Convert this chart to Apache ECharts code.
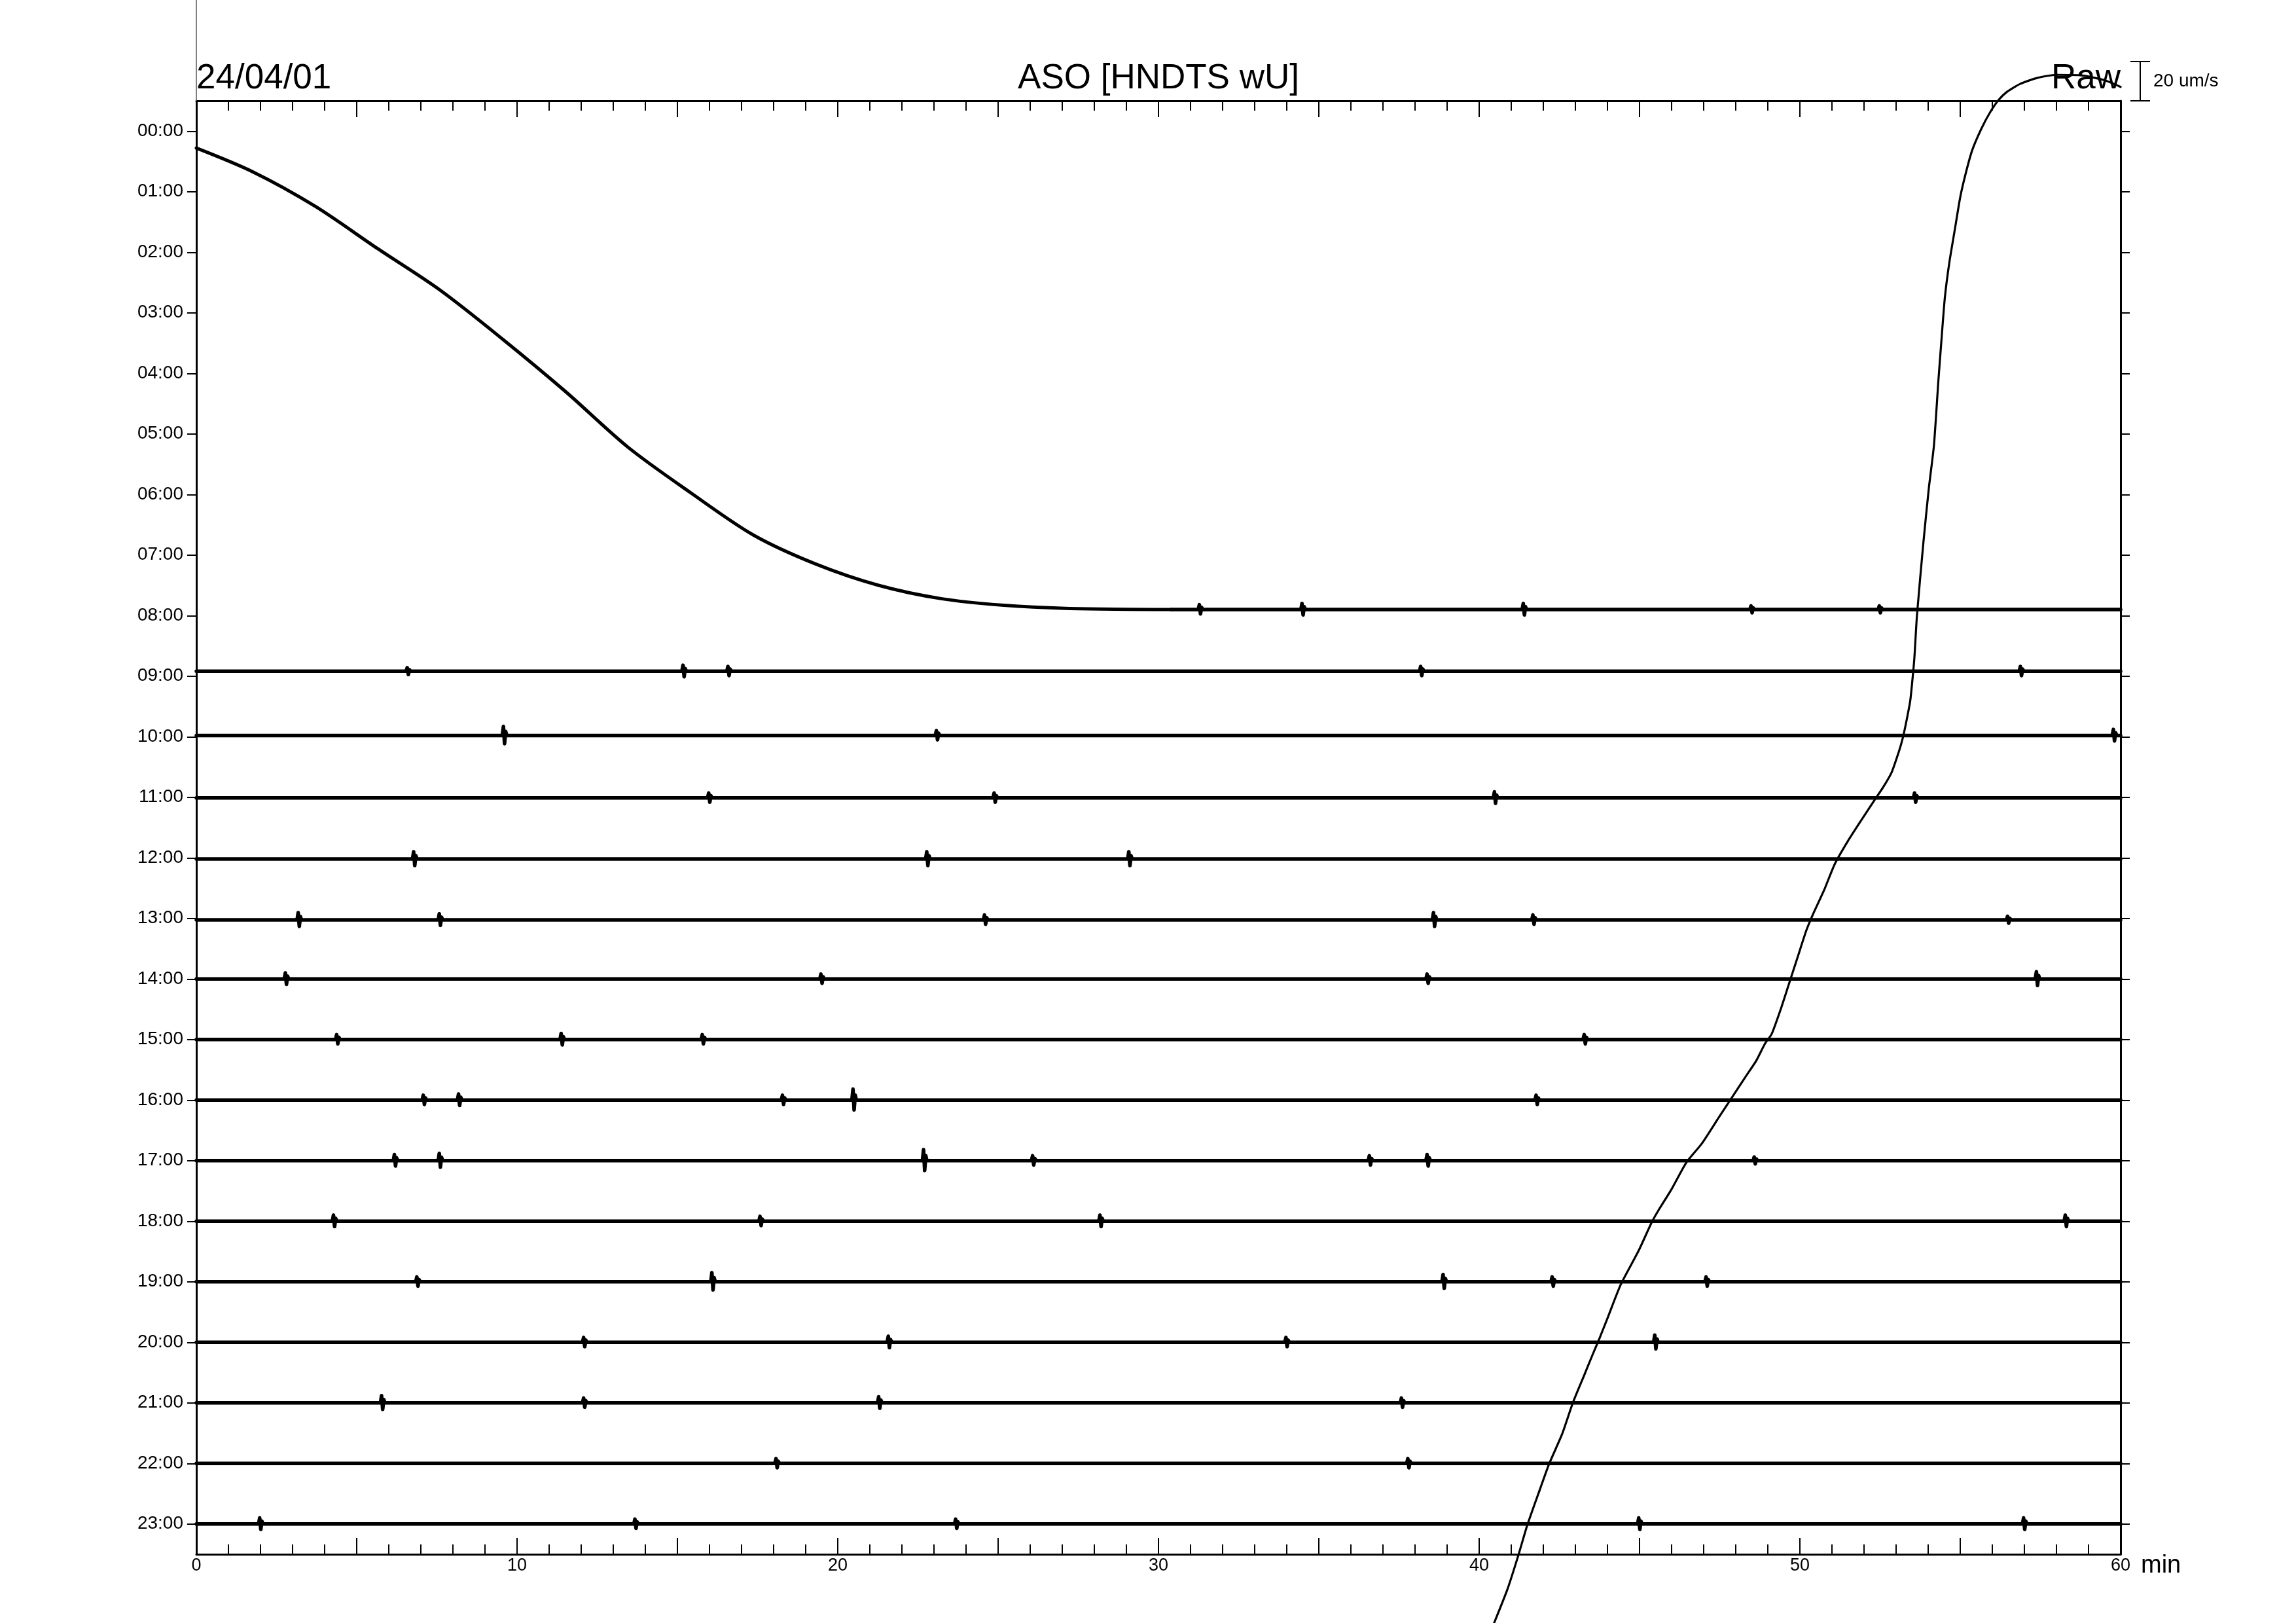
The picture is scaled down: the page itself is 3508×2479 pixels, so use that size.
<!DOCTYPE html>
<html><head><meta charset="utf-8">
<script src="https://cdn.jsdelivr.net/npm/echarts@6/dist/echarts.min.js"></script>
<style>html,body{margin:0;padding:0;background:#fff}#c{width:3508px;height:2479px}</style>
</head><body><div id="c"></div>
<script>
// ---------- data ----------
const hourLabels = ['00:00','01:00','02:00','03:00','04:00','05:00','06:00','07:00','08:00','09:00','10:00','11:00',
  '12:00','13:00','14:00','15:00','16:00','17:00','18:00','19:00','20:00','21:00','22:00','23:00'];
const hourTicks = [0,1,2,3,4,5,6,7,8,9,10,11,12,13,14,15,16,17,18,19,20,21,22,23];
const xTickLabels = [0,10,20,30,40,50,60];

// hours whose trace runs flat (row position of baseline, in hour-rows)
const flatTraceHours = [8,9,10,11,12,13,14,15,16,17,18,19,20,21,22,23];
const flatTraceLevel = [7.90,8.92,9.98,11.01,12.02,13.025,14.0,15.0,16.0,17.0,18.0,19.0,20.0,21.0,22.0,23.0];

// 08:00 trace recovering from a large offset: [minute, row]
const recoveryCurve08 = [[0,0.28],[1.75,0.67],[3.7,1.24],[5.65,1.94],[7.61,2.63],[9.56,3.44],[11.51,4.30],
  [13.46,5.22],[15.41,5.97],[17.37,6.67],[19.32,7.15],[21.27,7.50],[23.22,7.72],[25.18,7.83],[27.1,7.88],[30.4,7.90]];

// 07:00 trace drifting through the whole sheet: [minute, row]
const driftCurve07 = [[39.8,25.5],[40.47,24.63],[40.88,24.08],[41.22,23.52],[41.50,23.02],[41.90,22.42],[42.18,22.01],
  [42.59,21.51],[42.92,21.00],[43.27,20.55],[43.54,20.20],[43.74,19.95],[44.01,19.59],[44.42,19.04],[44.97,18.49],
  [45.37,18.03],[45.58,17.83],[45.99,17.48],[46.46,17.03],[46.94,16.72],[47.48,16.28],[47.89,15.95],[48.30,15.62],
  [48.64,15.35],[48.91,15.07],[49.12,14.91],[49.39,14.52],[49.66,14.08],[49.93,13.64],[50.20,13.20],[50.41,12.93],
  [50.75,12.54],[51.09,12.10],[51.50,11.72],[51.90,11.39],[52.31,11.06],[52.59,10.84],[52.86,10.59],[53.09,10.24],
  [53.20,10.04],[53.30,9.80],[53.44,9.41],[53.52,9.00],[53.57,8.70],[53.65,8.00],[53.85,6.80],[54.02,5.90],
  [54.18,5.19],[54.32,4.11],[54.42,3.41],[54.52,2.75],[54.66,2.17],[54.83,1.63],[55.0,1.09],[55.17,0.70],
  [55.37,0.32],[55.65,-0.03],[55.92,-0.30],[56.19,-0.51],[56.46,-0.65],[56.87,-0.78],[57.41,-0.88],[58.0,-0.93],
  [58.78,-0.92],[59.5,-0.84],[60.0,-0.73]];

// faint trace edge above the sheet at minute 0
const edgeTrace = [[0,-0.5],[0,-2.4]];

// visible bursts on the flat traces: [hour, minute, amplitude in rows]
const spikeEvents = [
  [8,31.3,0.08],[8,34.5,0.10],[8,41.4,0.10],[8,48.5,0.06],[8,52.5,0.06],
  [9,6.6,0.06],[9,15.2,0.10],[9,16.6,0.08],[9,38.2,0.08],[9,56.9,0.08],
  [10,9.6,0.15],[10,23.1,0.08],[10,59.8,0.10],
  [11,16.0,0.08],[11,24.9,0.08],[11,40.5,0.10],[11,53.6,0.08],
  [12,6.8,0.12],[12,22.8,0.12],[12,29.1,0.12],
  [13,3.2,0.12],[13,7.6,0.10],[13,24.6,0.08],[13,38.6,0.12],[13,41.7,0.08],[13,56.5,0.06],
  [14,2.8,0.10],[14,19.5,0.08],[14,38.4,0.08],[14,57.4,0.12],
  [15,4.4,0.08],[15,11.4,0.10],[15,15.8,0.08],[15,43.3,0.08],
  [16,7.1,0.08],[16,8.2,0.10],[16,18.3,0.08],[16,20.5,0.18],[16,41.8,0.08],
  [17,6.2,0.10],[17,7.6,0.12],[17,22.7,0.18],[17,26.1,0.08],[17,36.6,0.08],[17,38.4,0.10],[17,48.6,0.06],
  [18,4.3,0.10],[18,17.6,0.08],[18,28.2,0.10],[18,58.3,0.10],
  [19,6.9,0.08],[19,16.1,0.15],[19,38.9,0.12],[19,42.3,0.08],[19,47.1,0.08],
  [20,12.1,0.08],[20,21.6,0.10],[20,34.0,0.08],[20,45.5,0.12],
  [21,5.8,0.12],[21,12.1,0.08],[21,21.3,0.10],[21,37.6,0.08],
  [22,18.1,0.08],[22,37.8,0.08],
  [23,2.0,0.10],[23,13.7,0.08],[23,23.7,0.08],[23,45.0,0.10],[23,57.0,0.10]
];

// ---------- chart ----------
const FONT = "'Liberation Sans', Arial, Helvetica, sans-serif";
const chart = echarts.init(document.getElementById('c'), null, {renderer:'canvas'});

function traceSeries(data, width, clip, smooth){
  return {type:'line', data:data, showSymbol:false, symbol:'none', smooth:smooth||false,
    clip:clip, silent:true, animation:false, xAxisIndex:0, yAxisIndex:0,
    lineStyle:{color:'#000', width:width, join:'round', cap:'round'}};
}

const series = [];
flatTraceHours.forEach((h, i) => {
  const L = flatTraceLevel[i];
  const start = (h === 8) ? recoveryCurve08[recoveryCurve08.length-1][0] : 0;
  const pts = [[start, L]];
  spikeEvents.filter(e => e[0] === h && e[1] > start).sort((a,b)=>a[1]-b[1]).forEach(e => {
    const m = e[1], a = e[2];
    pts.push([m-0.06, L],[m-0.025, L-a],[m+0.01, L+a*0.9],[m+0.045, L-a*0.45],[m+0.08, L]);
  });
  pts.push([60, L]);
  series.push(traceSeries(pts, 5.5, true));
});
series.push(traceSeries(recoveryCurve08, 5, false, 0.3));
series.push(traceSeries(driftCurve07, 3.2, false, 0.2));
series.push({type:'line', data:edgeTrace, showSymbol:false, symbol:'none', clip:false, silent:true,
  animation:false, lineStyle:{color:'#555', width:1.5}});

const tickStyle = {color:'#000', width:2};
const xAxisBase = {type:'value', min:0, max:60, interval:5,
  axisLine:{show:true, onZero:false, lineStyle:{color:'#000', width:3}},
  axisTick:{show:true, inside:true, length:25, lineStyle:tickStyle},
  minorTick:{show:true, splitNumber:5, length:15, lineStyle:tickStyle},
  splitLine:{show:false}, minorSplitLine:{show:false}};
const yAxisBase = {type:'value', min:-0.5, max:23.5, inverse:true,
  axisLine:{show:true, onZero:false, lineStyle:{color:'#000', width:3}},
  axisTick:{show:true, inside:false, length:14, customValues:hourTicks, lineStyle:tickStyle},
  splitLine:{show:false}};

chart.setOption({
  backgroundColor:'#fff',
  animation:false,
  grid:{left:300, right:268, top:154, bottom:105, containLabel:false},
  xAxis:[
    Object.assign({}, xAxisBase, {position:'bottom',
      axisLabel:{show:true, margin:4, color:'#000', fontSize:27, fontFamily:FONT,
        formatter:(v)=> xTickLabels.indexOf(Math.round(v))>=0 ? String(Math.round(v)) : ''}}),
    Object.assign({}, xAxisBase, {position:'top', axisLabel:{show:false}})
  ],
  yAxis:[
    Object.assign({}, yAxisBase, {position:'left',
      axisLabel:{show:true, customValues:hourTicks, margin:20, color:'#000', fontSize:28, fontFamily:FONT,
        formatter:(v)=> hourLabels[Math.round(v)] || ''}}),
    Object.assign({}, yAxisBase, {position:'right', axisLabel:{show:false}})
  ],
  series: series,
  graphic:[
    {type:'text', x:300, y:120, style:{text:'24/04/01', font:'53px '+FONT, fill:'#000', textAlign:'left', textVerticalAlign:'middle'}},
    {type:'text', x:1770, y:120, style:{text:'ASO [HNDTS wU]', font:'53px '+FONT, fill:'#000', textAlign:'center', textVerticalAlign:'middle'}},
    {type:'text', x:3240, y:120, style:{text:'Raw', font:'53px '+FONT, fill:'#000', textAlign:'right', textVerticalAlign:'middle'}},
    {type:'line', shape:{x1:3270, y1:94, x2:3270, y2:154}, style:{stroke:'#000', lineWidth:2}},
    {type:'line', shape:{x1:3255, y1:94, x2:3285, y2:94}, style:{stroke:'#000', lineWidth:2}},
    {type:'line', shape:{x1:3255, y1:154, x2:3285, y2:154}, style:{stroke:'#000', lineWidth:2}},
    {type:'text', x:3290, y:124, style:{text:'20 um/s', font:'28px '+FONT, fill:'#000', textAlign:'left', textVerticalAlign:'middle'}},
    {type:'text', x:3271, y:2392, style:{text:'min', font:'38px '+FONT, fill:'#000', textAlign:'left', textVerticalAlign:'middle'}}
  ]
});
</script>
</body></html>
